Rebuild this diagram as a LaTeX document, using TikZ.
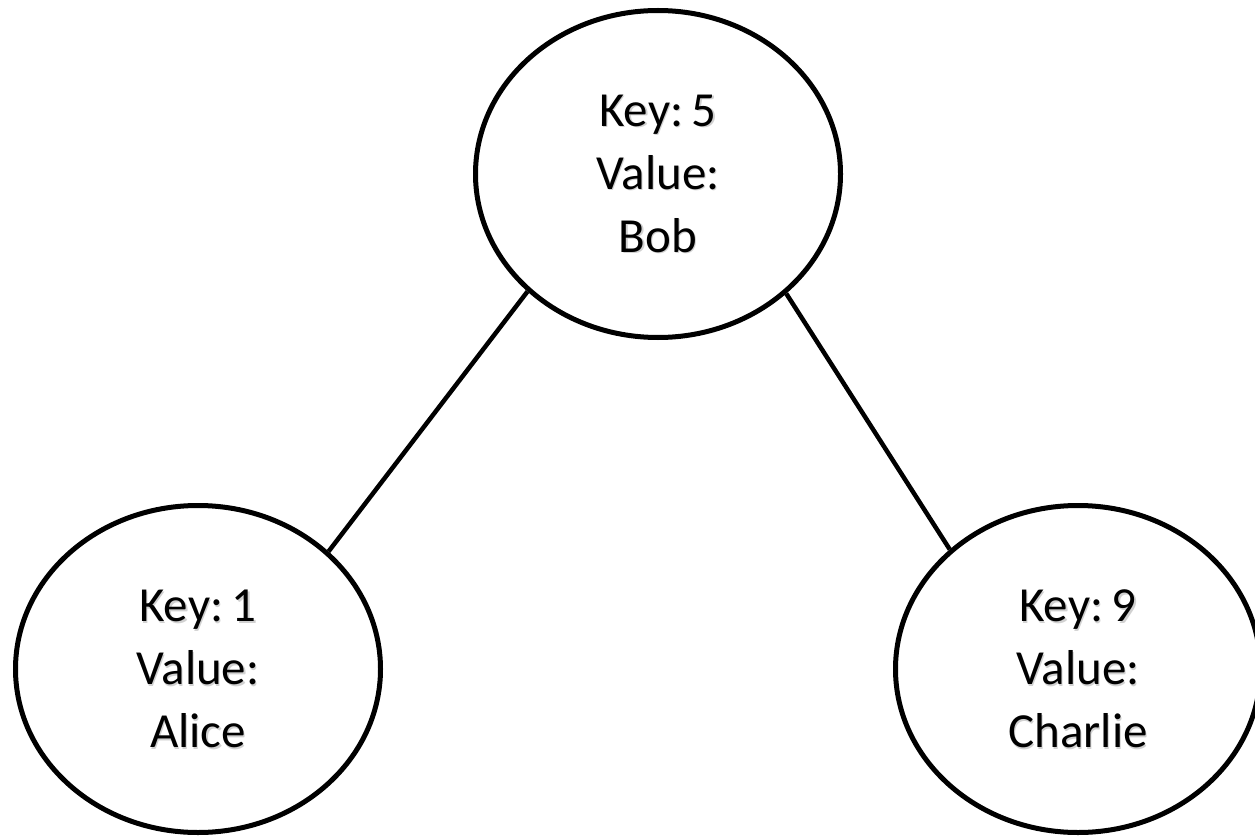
\documentclass[tikz,border=0pt]{standalone}
\usepackage{fontspec}
\setmainfont{Carlito}
\usetikzlibrary{shapes.geometric}
\newcommand\treelabelfont{\fontsize{49}{63}\selectfont\spaceskip 0.1em\relax}
\begin{document}
\begin{tikzpicture}[x=1pt,y=-1pt,
  nodetext/.style={align=center, inner sep=0pt, font=\treelabelfont},
  treenode/.style={nodetext, draw=black, line width=5pt, ellipse,
    minimum width=365pt, minimum height=327pt},
  textshadow/.style={nodetext, text=black!18},
  edge/.style={draw=black, line width=4.5pt}]
  \useasboundingbox (0,0) rectangle (1255,837);
  \fill[white] (0,0) rectangle (1255,837);

  % soft drop shadow under the labels
  \node[textshadow] (rootsh)  at (659.2,175.4)  {Key: 5\\Value:\\Bob};
  \node[textshadow] (leftsh)  at (199.2,670.4)  {Key: 1\\Value:\\Alice};
  \node[textshadow] (rightsh) at (1079.2,670.4) {Key: 9\\Value:\\Charlie};

  % binary search tree: root and two children
  \node[treenode] (root)  at (658,174)  {Key: 5\\Value:\\Bob};
  \node[treenode] (left)  at (198,669)  {Key: 1\\Value:\\Alice};
  \node[treenode] (right) at (1078,669) {Key: 9\\Value:\\Charlie};

  \draw[edge] (root.222) -- (left.42);
  \draw[edge] (root.317) -- (right.137);
\end{tikzpicture}
\end{document}
